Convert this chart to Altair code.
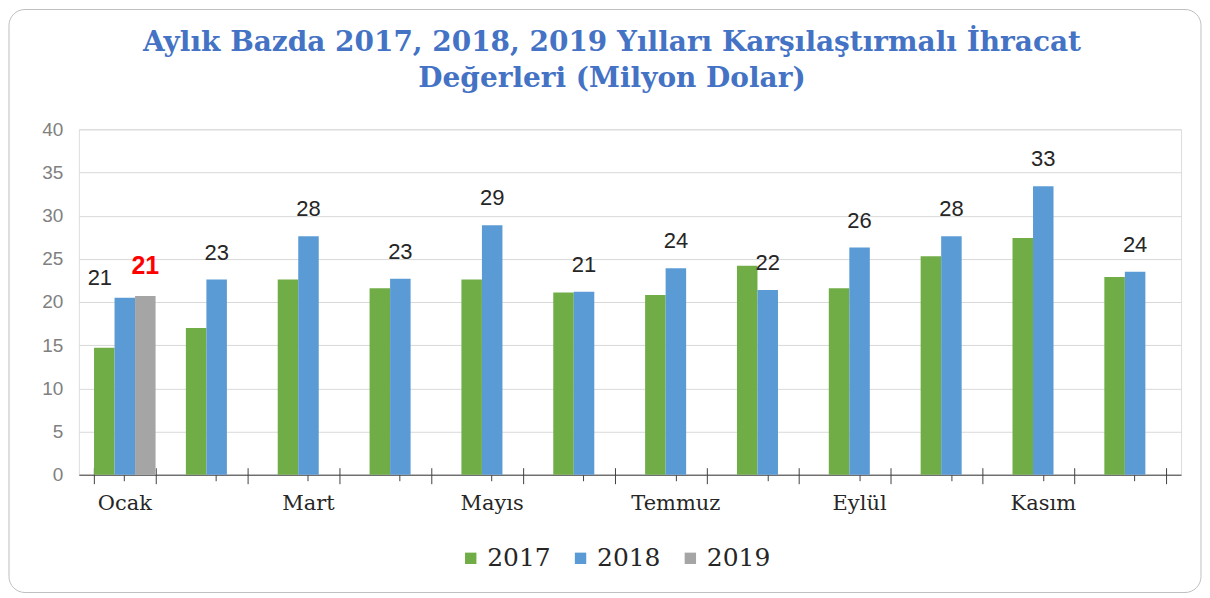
import altair as alt
import pandas as pd

months = ["Ocak", "Şubat", "Mart", "Nisan", "Mayıs", "Haziran",
          "Temmuz", "Ağustos", "Eylül", "Ekim", "Kasım", "Aralık"]
years = ["2017", "2018", "2019"]
v2017 = [14.7, 17.0, 22.6, 21.6, 22.6, 21.1, 20.8, 24.2, 21.6, 25.3, 27.4, 22.9]
v2018 = [20.5, 22.6, 27.6, 22.7, 28.9, 21.2, 23.9, 21.4, 26.3, 27.6, 33.4, 23.5]
v2019_months = ["Ocak"]
v2019 = [20.7]
labels2018 = [21, 23, 28, 23, 29, 21, 24, 22, 26, 28, 33, 24]
labels2019 = [21]
shown_months = months[::2]
colors = ["#70AD47", "#5B9BD5", "#A5A5A5"]

rows = []
for m, v in zip(months, v2017):
    rows.append({"month": m, "year": "2017", "value": v})
for m, v in zip(months, v2018):
    rows.append({"month": m, "year": "2018", "value": v})
for m, v in zip(v2019_months, v2019):
    rows.append({"month": m, "year": "2019", "value": v})
bars_df = pd.DataFrame(rows)

lab18 = pd.DataFrame({"month": months, "year": "2018", "value": v2018, "label": labels2018})
lab18_main = lab18[lab18["month"] != "Ocak"]
lab18_first = lab18[lab18["month"] == "Ocak"]
lab19 = pd.DataFrame({"month": v2019_months, "year": "2019", "value": v2019, "label": labels2019})

xscale = alt.Scale(domain=months, paddingInner=0.33, paddingOuter=0.165)
xoff = alt.XOffset("year:N", scale=alt.Scale(domain=years, paddingInner=0))
yenc = alt.Y("value:Q", scale=alt.Scale(domain=[0, 40], nice=False),
             axis=alt.Axis(values=list(range(0, 41, 5)), grid=True, gridColor="#d9d9d9",
                           domain=False, ticks=False, labelColor="#808080",
                           labelFont="Liberation Sans", labelFontSize=19,
                           labelPadding=16, title=None))

bars = alt.Chart(bars_df).mark_bar().encode(
    x=alt.X("month:N", scale=xscale,
            axis=alt.Axis(values=shown_months, ticks=False, domain=True,
                          domainColor="#404040", labelColor="#262626",
                          labelFont="DejaVu Serif", labelFontSize=21,
                          labelPadding=18, labelAngle=0, title=None, grid=False)),
    xOffset=xoff,
    y=yenc,
    color=alt.Color("year:N", scale=alt.Scale(domain=years, range=colors),
                    legend=alt.Legend(orient="none", legendX=380, legendY=417,
                                      direction="horizontal", title=None,
                                      symbolType="square", symbolSize=130,
                                      symbolStrokeWidth=0, labelFont="DejaVu Serif",
                                      labelFontSize=25, labelColor="#262626",
                                      columnPadding=17, labelOffset=4, padding=0)),
)

text_main = alt.Chart(lab18_main).mark_text(
    font="Liberation Sans", fontSize=22, color="#262626", baseline="middle", dy=-27
).encode(
    x=alt.X("month:N", scale=xscale,
            axis=alt.Axis(orient="bottom", labels=False, domain=False, ticks=True,
                          tickBand="extent", tickSize=16, offset=-7,
                          tickColor="#404040", title=None, grid=False)),
    xOffset=xoff,
    y=yenc,
    text="label:Q",
)

text_first = alt.Chart(lab18_first).mark_text(
    font="Liberation Sans", fontSize=22, color="#262626", baseline="middle", dy=-20, dx=-25
).encode(
    x=alt.X("month:N", scale=xscale,
            axis=alt.Axis(orient="bottom", labels=False, domain=False, ticks=True,
                          tickSize=6, tickColor="#404040",
                          title=None, grid=False)),
    xOffset=xoff,
    y=yenc,
    text="label:Q",
)

text_19 = alt.Chart(lab19).mark_text(
    font="Liberation Sans", fontSize=25, fontWeight="bold", color="#FF0000",
    baseline="middle", dy=-30
).encode(
    x=alt.X("month:N", scale=xscale, axis=None),
    xOffset=xoff,
    y=yenc,
    text="label:Q",
)

frame = alt.Chart(pd.DataFrame({"k": [0]})).mark_rect(
    fill="transparent", stroke="#bfbfbf", strokeWidth=1, cornerRadius=16
).encode(
    x=alt.value(-70), x2=alt.value(1124), y=alt.value(-120), y2=alt.value(464)
)

chart = alt.layer(frame, bars, text_main, text_first, text_19).resolve_axis(
    x="independent"
).properties(
    width=1104, height=346, padding=0,
    title=alt.TitleParams(
        ["Aylık Bazda 2017, 2018, 2019 Yılları Karşılaştırmalı İhracat",
         "Değerleri (Milyon Dolar)"],
        font="DejaVu Serif", fontSize=28, fontWeight="bold", color="#4472C4",
        anchor="middle", dx=-18, offset=-84, lineHeight=36),
).configure_view(strokeWidth=0).configure(background="white")

chart.save("out.html", embed_options={"renderer": "svg", "actions": False})
